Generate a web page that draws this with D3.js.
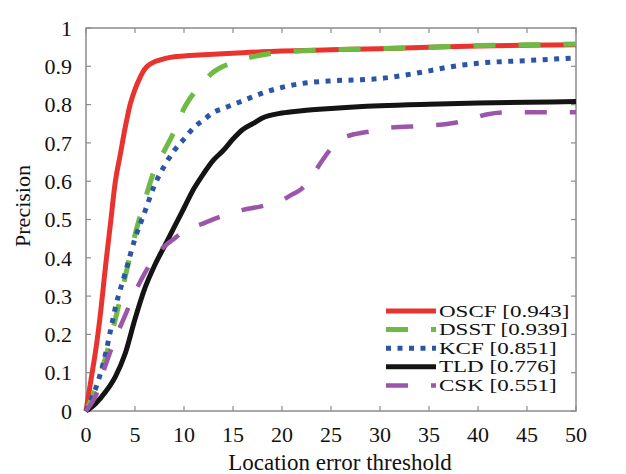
<!DOCTYPE html>
<html>
<head>
<meta charset="utf-8">
<script src="https://cdn.jsdelivr.net/npm/d3@7"></script>
<style>
  body { margin: 0; background: #fff; }
  text { font-family: "Liberation Serif", "Times New Roman", serif; fill: #111; }
</style>
</head>
<body>
<div id="chart"></div>
<script>
// Data
const oscfX = [0, 0.5, 1, 1.5, 2, 2.5, 3, 3.5, 4, 4.5, 5, 5.5, 6, 6.5, 7, 7.5, 8, 9, 10, 12, 15, 20, 25, 30, 35, 40, 45, 50];
const oscfY = [0, 0.08, 0.16, 0.26, 0.38, 0.49, 0.6, 0.67, 0.74, 0.8, 0.84, 0.87, 0.893, 0.905, 0.912, 0.916, 0.92, 0.925, 0.927, 0.93, 0.934, 0.94, 0.943, 0.946, 0.95, 0.953, 0.955, 0.956];

const dsstX = [0, 1, 2, 3, 4, 5, 6, 7, 8, 9, 10, 11, 12, 13, 14, 15, 17, 20, 25, 30, 35, 40, 45, 50];
const dsstY = [0, 0.06, 0.14, 0.24, 0.35, 0.46, 0.55, 0.63, 0.68, 0.73, 0.79, 0.83, 0.86, 0.885, 0.9, 0.91, 0.925, 0.937, 0.943, 0.946, 0.95, 0.954, 0.956, 0.958];

const kcfX = [0, 0.5, 1, 1.5, 2, 2.5, 3, 4, 5, 6, 7, 8, 9, 10, 11, 12, 13, 14, 15, 16, 18, 20, 22, 25, 28, 30, 32, 35, 37, 40, 45, 50];
const kcfY = [0, 0.03, 0.06, 0.1, 0.15, 0.21, 0.27, 0.36, 0.45, 0.52, 0.59, 0.64, 0.68, 0.71, 0.74, 0.76, 0.78, 0.79, 0.8, 0.81, 0.83, 0.845, 0.855, 0.862, 0.865, 0.868, 0.875, 0.888, 0.898, 0.908, 0.915, 0.922];

const tldX = [0, 1, 2, 3, 4, 5, 6, 7, 8, 9, 10, 11, 12, 13, 14, 15, 16, 17, 18, 20, 22, 25, 30, 35, 40, 45, 50];
const tldY = [0, 0.02, 0.05, 0.09, 0.15, 0.24, 0.32, 0.38, 0.43, 0.48, 0.53, 0.58, 0.62, 0.655, 0.68, 0.71, 0.735, 0.75, 0.765, 0.778, 0.784, 0.79, 0.797, 0.801, 0.804, 0.806, 0.808];

const cskX = [0, 1, 2, 3, 4, 5, 6, 7, 8, 9, 10, 12, 14, 16, 18, 20, 21, 22, 23, 24, 25, 26, 27, 29, 31, 35, 37, 39, 41, 43, 50];
const cskY = [0, 0.04, 0.12, 0.19, 0.25, 0.31, 0.36, 0.4, 0.43, 0.45, 0.47, 0.49, 0.51, 0.525, 0.535, 0.55, 0.565, 0.58, 0.61, 0.65, 0.685, 0.71, 0.72, 0.73, 0.74, 0.745, 0.75, 0.76, 0.775, 0.78, 0.78];

const seriesNames = ["OSCF [0.943]", "DSST [0.939]", "KCF [0.851]", "TLD [0.776]", "CSK [0.551]"];
const xTicks = [0, 5, 10, 15, 20, 25, 30, 35, 40, 45, 50];
const yTicks = [0, 0.1, 0.2, 0.3, 0.4, 0.5, 0.6, 0.7, 0.8, 0.9, 1];

const svgWidth = 626, svgHeight = 474;
const margin = { left: 86, right: 50, top: 28, bottom: 63 };

const svg = d3.select("#chart")
    .append("svg")
    .attr("width", svgWidth)
    .attr("height", svgHeight);

const x = d3.scaleLinear()
    .domain([0, 50])
    .range([margin.left, svgWidth - margin.right]);

const y = d3.scaleLinear()
    .domain([0, 1])
    .range([svgHeight - margin.bottom, margin.top]);

// style of each series, same order as seriesNames
const styles = [
    { color: "#e8332f", dash: null, width: 5 },
    { color: "#6fba45", dash: "22,23", width: 5 },
    { color: "#2d55a5", dash: "5,6.5", width: 5 },
    { color: "#141414", dash: null, width: 5 },
    { color: "#9c56a9", dash: "22,23", width: 4.5 }
];

const seriesData = [
    d3.zip(oscfX, oscfY),
    d3.zip(dsstX, dsstY),
    d3.zip(kcfX, kcfY),
    d3.zip(tldX, tldY),
    d3.zip(cskX, cskY)
];

const gray = "#8c8c8c";
const tickLen = 5;

// frame
svg.append("rect")
    .attr("x", x(0))
    .attr("y", y(1))
    .attr("width", x(50) - x(0))
    .attr("height", y(0) - y(1))
    .attr("fill", "none")
    .attr("stroke", gray)
    .attr("stroke-width", 1.5);

// inward ticks on all four sides
const tickG = svg.append("g").attr("stroke", gray).attr("stroke-width", 1.2);
xTicks.forEach(t => {
    tickG.append("line").attr("x1", x(t)).attr("x2", x(t)).attr("y1", y(0)).attr("y2", y(0) - tickLen);
    tickG.append("line").attr("x1", x(t)).attr("x2", x(t)).attr("y1", y(1)).attr("y2", y(1) + tickLen);
});
yTicks.forEach(t => {
    tickG.append("line").attr("x1", x(0)).attr("x2", x(0) + tickLen).attr("y1", y(t)).attr("y2", y(t));
    tickG.append("line").attr("x1", x(50)).attr("x2", x(50) - tickLen).attr("y1", y(t)).attr("y2", y(t));
});

// tick labels
svg.append("g").selectAll("text")
    .data(xTicks)
    .enter().append("text")
    .attr("x", d => x(d))
    .attr("y", 442)
    .attr("text-anchor", "middle")
    .style("font-size", "22px")
    .text(d => d);

svg.append("g").selectAll("text")
    .data(yTicks)
    .enter().append("text")
    .attr("x", x(0) - 14)
    .attr("y", d => y(d))
    .attr("dy", "0.35em")
    .attr("text-anchor", "end")
    .style("font-size", "22px")
    .text(d => d);

// axis titles
svg.append("text")
    .attr("x", 340)
    .attr("y", 470)
    .attr("text-anchor", "middle")
    .style("font-size", "23px")
    .text("Location error threshold");

svg.append("text")
    .attr("transform", "translate(30, 206) rotate(-90)")
    .attr("text-anchor", "middle")
    .style("font-size", "22px")
    .text("Precision");

// curves
const line = d3.line()
    .x(d => x(d[0]))
    .y(d => y(d[1]))
    .curve(d3.curveMonotoneX);

seriesData.forEach((data, i) => {
    svg.append("path")
        .datum(data)
        .attr("fill", "none")
        .attr("stroke", styles[i].color)
        .attr("stroke-width", styles[i].width)
        .attr("stroke-dasharray", styles[i].dash)
        .attr("d", line);
});

// legend (rows are tight, so the text is smaller and stretched to full width)
const legend = svg.append("g");
seriesNames.forEach((name, i) => {
    const ly = 311 + i * 18.6;
    legend.append("line")
        .attr("x1", 386)
        .attr("x2", 436)
        .attr("y1", ly)
        .attr("y2", ly)
        .attr("stroke", styles[i].color)
        .attr("stroke-width", styles[i].width)
        .attr("stroke-dasharray", styles[i].dash);
    const t = legend.append("text")
        .attr("x", 439)
        .attr("y", ly + 5.5)
        .style("font-size", "16px")
        .text(name);
    const w = t.node().getComputedTextLength();
    t.attr("textLength", w * 23 / 16).attr("lengthAdjust", "spacingAndGlyphs");
});
</script>
</body>
</html>
